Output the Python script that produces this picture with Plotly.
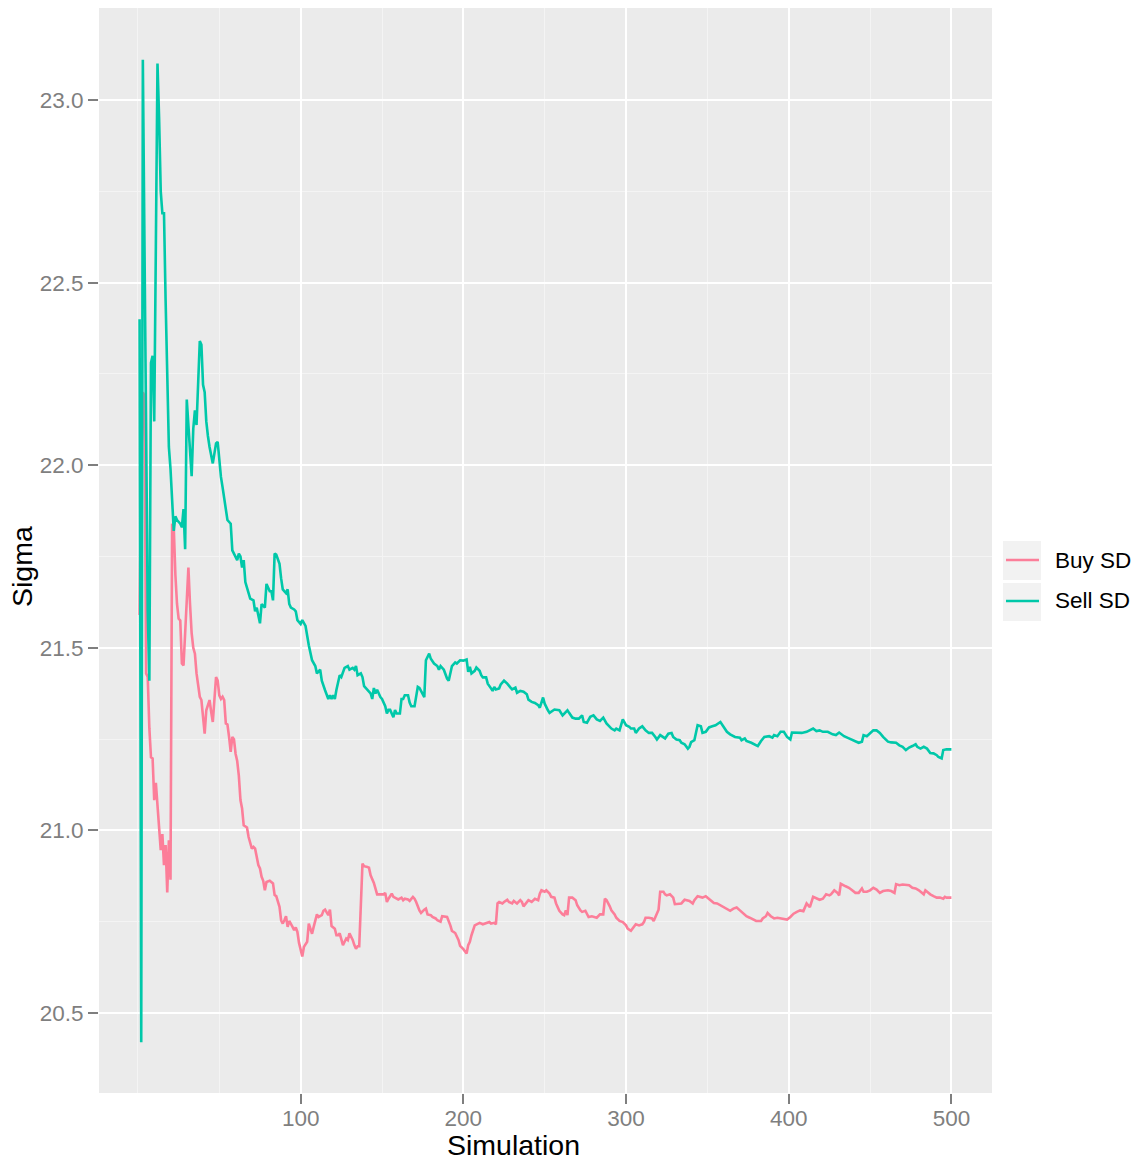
import plotly.graph_objects as go

# ---------------- data ----------------
sell_sim = [1, 2, 3, 4, 5, 6, 7, 8, 9, 10, 11, 12, 13, 14, 15, 16, 17, 18, 19, 20,
            21, 22, 23, 24, 26, 27, 28, 29, 30, 31, 32, 33, 34, 35, 36, 37, 38, 39, 40,
            41, 42, 43, 44, 46, 47, 48, 49, 50, 51, 52, 55, 57, 58, 61, 62, 63, 64, 65,
            66, 69, 71, 72, 73, 75, 76, 78, 79, 81, 82, 83, 84, 85, 87, 88, 89, 91, 92,
            93, 94, 96, 97, 98, 100, 101, 103, 105, 107, 109, 110, 112, 113, 115, 117,
            118, 119, 120, 121, 122, 124, 125, 127, 129, 130, 132, 133, 134, 135, 137,
            138, 139, 141, 143, 144, 145, 146, 147, 149, 150, 152, 153, 154, 155, 157,
            158, 159, 161, 162, 163, 164, 166, 167, 168, 170, 172, 173, 175, 176, 177,
            179, 180, 182, 184, 185, 186, 188, 190, 191, 193, 195, 196, 198, 200, 202,
            203, 204, 205, 207, 208, 210, 211, 212, 214, 215, 217, 218, 219, 220, 222,
            223, 225, 227, 229, 230, 232, 233, 235, 237, 239, 240, 242, 244, 246, 247,
            249, 250, 252, 253, 256, 259, 261, 262, 264, 265, 267, 269, 271, 273, 274,
            276, 277, 278, 280, 282, 284, 285, 286, 288, 290, 291, 293, 294, 296, 297,
            298, 300, 302, 303, 305, 306, 308, 310, 312, 314, 316, 318, 319, 321, 323,
            324, 326, 328, 329, 331, 333, 334, 336, 338, 339, 340, 342, 344, 346, 347,
            349, 351, 353, 355, 358, 360, 362, 364, 367, 370, 371, 373, 374, 377, 379,
            381, 383, 385, 388, 390, 391, 393, 395, 397, 399, 401, 402, 405, 408, 411,
            413, 415, 417, 419, 421, 424, 427, 429, 431, 434, 437, 440, 443, 445, 446,
            448, 450, 452, 454, 456, 458, 461, 463, 466, 468, 470, 472, 474, 476, 478,
            479, 481, 483, 485, 487, 489, 491, 492, 494, 495, 497, 500]
sell_sd = [22.40, 20.42, 23.11, 22.60, 22.00, 21.60, 21.41, 22.28, 22.30, 22.12, 22.60,
           23.10, 22.95, 22.75, 22.69, 22.69, 22.45, 22.25, 22.05, 21.99, 21.90, 21.82,
           21.86, 21.85, 21.84, 21.83, 21.88, 21.77, 22.18, 22.11, 22.02, 21.97, 22.10,
           22.15, 22.11, 22.25, 22.34, 22.33, 22.22, 22.20, 22.12, 22.08, 22.05, 22.005,
           22.03, 22.06, 22.064, 22.01, 21.968, 21.94, 21.85, 21.84, 21.767, 21.74,
           21.758, 21.75, 21.72, 21.74, 21.68, 21.635, 21.63, 21.60, 21.61, 21.567,
           21.62, 21.61, 21.675, 21.655, 21.655, 21.63, 21.758, 21.755, 21.73, 21.69,
           21.66, 21.65, 21.66, 21.62, 21.61, 21.605, 21.60, 21.576, 21.565, 21.576,
           21.56, 21.507, 21.466, 21.45, 21.43, 21.44, 21.41, 21.384, 21.36, 21.37,
           21.36, 21.37, 21.36, 21.385, 21.425, 21.42, 21.445, 21.45, 21.44, 21.445,
           21.44, 21.45, 21.425, 21.43, 21.42, 21.395, 21.385, 21.375, 21.36, 21.39,
           21.375, 21.385, 21.365, 21.36, 21.34, 21.32, 21.33, 21.33, 21.31, 21.33,
           21.32, 21.32, 21.36, 21.36, 21.37, 21.37, 21.35, 21.34, 21.34, 21.393, 21.39,
           21.375, 21.365, 21.466, 21.484, 21.47, 21.457, 21.45, 21.44, 21.45, 21.44,
           21.416, 21.41, 21.45, 21.46, 21.457, 21.466, 21.465, 21.468, 21.434, 21.448,
           21.43, 21.437, 21.446, 21.437, 21.425, 21.419, 21.419, 21.402, 21.389,
           21.382, 21.393, 21.386, 21.389, 21.40, 21.41, 21.402, 21.391, 21.386, 21.391,
           21.377, 21.382, 21.38, 21.373, 21.358, 21.352, 21.349, 21.343, 21.336,
           21.364, 21.347, 21.329, 21.322, 21.331, 21.329, 21.315, 21.32, 21.329,
           21.322, 21.309, 21.306, 21.306, 21.315, 21.297, 21.295, 21.302, 21.311,
           21.315, 21.304, 21.30, 21.306, 21.309, 21.293, 21.282, 21.279, 21.274,
           21.279, 21.274, 21.291, 21.304, 21.288, 21.284, 21.279, 21.279, 21.267,
           21.279, 21.285, 21.274, 21.267, 21.267, 21.256, 21.249, 21.261, 21.256,
           21.252, 21.265, 21.267, 21.256, 21.249, 21.247, 21.24, 21.236, 21.224,
           21.229, 21.242, 21.247, 21.288, 21.285, 21.267, 21.27, 21.282, 21.285,
           21.288, 21.297, 21.284, 21.27, 21.263, 21.256, 21.254, 21.247, 21.252,
           21.245, 21.24, 21.236, 21.231, 21.245, 21.256, 21.258, 21.254, 21.261,
           21.258, 21.27, 21.27, 21.256, 21.249, 21.268, 21.267, 21.267, 21.27, 21.274,
           21.279, 21.272, 21.274, 21.27, 21.27, 21.263, 21.261, 21.268, 21.258,
           21.252, 21.245, 21.24, 21.243, 21.261, 21.258, 21.265, 21.274, 21.274,
           21.267, 21.256, 21.243, 21.241, 21.24, 21.233, 21.229, 21.22, 21.227,
           21.231, 21.236, 21.229, 21.224, 21.229, 21.224, 21.212, 21.211, 21.206,
           21.201, 21.197, 21.22, 21.222, 21.222]

buy_sim = [1, 2, 3, 4, 5, 6, 7, 8, 9, 10, 11, 12, 13, 14, 15, 16, 17, 18, 19, 20, 21,
           22, 23, 24, 25, 26, 27, 28, 29, 30, 31, 32, 33, 34, 35, 36, 37, 38, 39, 40,
           41, 42, 44, 45, 46, 48, 49, 50, 51, 52, 53, 54, 55, 56, 57, 58, 59, 60, 61,
           62, 63, 64, 65, 67, 68, 70, 71, 72, 74, 75, 76, 77, 78, 79, 81, 83, 84, 85,
           87, 88, 89, 90, 91, 92, 93, 95, 96, 97, 98, 99, 100, 101, 102, 104, 105,
           107, 108, 110, 111, 113, 114, 115, 117, 118, 119, 121, 122, 123, 124, 126,
           128, 129, 130, 132, 133, 134, 135, 136, 138, 139, 141, 142, 143, 145, 147,
           148, 150, 151, 152, 153, 154, 156, 157, 159, 160, 162, 163, 164, 166, 167,
           169, 170, 171, 173, 174, 176, 177, 178, 180, 181, 183, 184, 186, 187, 190,
           192, 193, 195, 197, 198, 200, 202, 203, 204, 205, 207, 208, 210, 212, 214,
           216, 217, 219, 220, 221, 222, 224, 225, 227, 228, 230, 231, 233, 235, 236,
           237, 239, 240, 242, 243, 244, 246, 247, 248, 250, 251, 253, 254, 256, 257,
           259, 261, 262, 263, 264, 265, 267, 269, 270, 272, 273, 275, 277, 279, 281,
           282, 284, 286, 287, 288, 290, 291, 293, 294, 296, 298, 300, 301, 303, 305,
           306, 308, 310, 311, 312, 314, 316, 317, 319, 320, 321, 323, 324, 325, 327,
           329, 330, 332, 334, 336, 337, 339, 341, 342, 344, 345, 347, 349, 350, 352,
           354, 356, 358, 360, 362, 364, 366, 368, 370, 372, 374, 376, 378, 380, 383,
           384, 386, 387, 389, 391, 393, 395, 397, 399, 401, 403, 405, 407, 409, 411,
           412, 413, 415, 417, 419, 421, 423, 425, 426, 428, 430, 431, 432, 435, 437,
           439, 441, 443, 445, 446, 448, 450, 452, 454, 456, 458, 461, 463, 465, 466,
           468, 470, 472, 474, 476, 478, 480, 481, 483, 484, 485, 487, 489, 491, 493,
           495, 496, 497, 500]
buy_sd = [21.59, 22.00, 22.20, 22.19, 21.43, 21.42, 21.28, 21.20, 21.197, 21.083, 21.13,
          21.07, 20.99, 20.946, 20.99, 20.905, 20.96, 20.83, 20.973, 20.865, 21.84,
          21.83, 21.70, 21.62, 21.58, 21.575, 21.457, 21.452, 21.54, 21.64, 21.72,
          21.62, 21.54, 21.50, 21.484, 21.43, 21.40, 21.366, 21.357, 21.30, 21.265,
          21.329, 21.357, 21.325, 21.297, 21.42, 21.41, 21.37, 21.36, 21.366, 21.357,
          21.293, 21.29, 21.256, 21.215, 21.256, 21.25, 21.21, 21.19, 21.15, 21.083,
          21.06, 21.014, 21.008, 20.982, 20.95, 20.955, 20.95, 20.905, 20.896, 20.873,
          20.862, 20.836, 20.859, 20.862, 20.855, 20.823, 20.82, 20.791, 20.754,
          20.745, 20.754, 20.765, 20.736, 20.752, 20.736, 20.727, 20.734, 20.722,
          20.692, 20.676, 20.655, 20.681, 20.695, 20.745, 20.717, 20.736, 20.77,
          20.763, 20.768, 20.78, 20.783, 20.768, 20.783, 20.738, 20.731, 20.713,
          20.713, 20.718, 20.686, 20.704, 20.70, 20.718, 20.70, 20.686, 20.676,
          20.683, 20.683, 20.909, 20.902, 20.90, 20.898, 20.877, 20.856, 20.825,
          20.825, 20.827, 20.825, 20.829, 20.804, 20.813, 20.827, 20.818, 20.813,
          20.811, 20.816, 20.809, 20.813, 20.811, 20.807, 20.818, 20.813, 20.804,
          20.781, 20.774, 20.783, 20.786, 20.77, 20.768, 20.763, 20.759, 20.754,
          20.75, 20.765, 20.763, 20.74, 20.725, 20.719, 20.70, 20.684, 20.675, 20.663,
          20.686, 20.695, 20.713, 20.74, 20.742, 20.747, 20.743, 20.745, 20.749,
          20.745, 20.747, 20.743, 20.80, 20.804, 20.80, 20.804, 20.81, 20.804, 20.80,
          20.807, 20.80, 20.809, 20.804, 20.792, 20.804, 20.809, 20.804, 20.809,
          20.813, 20.809, 20.827, 20.836, 20.832, 20.836, 20.827, 20.818, 20.816,
          20.80, 20.78, 20.77, 20.768, 20.781, 20.768, 20.816, 20.816, 20.809, 20.795,
          20.781, 20.777, 20.78, 20.763, 20.765, 20.763, 20.761, 20.77, 20.77, 20.813,
          20.809, 20.792, 20.781, 20.77, 20.761, 20.752, 20.749, 20.74, 20.731,
          20.725, 20.738, 20.743, 20.74, 20.743, 20.749, 20.761, 20.761, 20.759,
          20.752, 20.772, 20.783, 20.832, 20.832, 20.825, 20.822, 20.825, 20.816,
          20.798, 20.80, 20.80, 20.81, 20.809, 20.807, 20.80, 20.809, 20.82, 20.818,
          20.816, 20.82, 20.816, 20.807, 20.801, 20.80, 20.795, 20.789, 20.783, 20.78,
          20.786, 20.789, 20.781, 20.772, 20.765, 20.761, 20.756, 20.752, 20.752,
          20.759, 20.765, 20.774, 20.765, 20.759, 20.761, 20.759, 20.759, 20.756,
          20.763, 20.772, 20.777, 20.781, 20.779, 20.80, 20.795, 20.79, 20.818,
          20.813, 20.81, 20.813, 20.825, 20.822, 20.825, 20.836, 20.829, 20.822,
          20.854, 20.847, 20.843, 20.836, 20.829, 20.829, 20.841, 20.832, 20.832,
          20.836, 20.843, 20.838, 20.829, 20.834, 20.836, 20.834, 20.829, 20.853,
          20.85, 20.852, 20.85, 20.85, 20.843, 20.841, 20.836, 20.832, 20.825, 20.836,
          20.832, 20.825, 20.82, 20.816, 20.816, 20.813, 20.818, 20.816, 20.816]

x_ticks = [100, 200, 300, 400, 500]
x_minor = [0, 50, 150, 250, 350, 450]
y_ticks = [20.5, 21.0, 21.5, 22.0, 22.5, 23.0]
y_minor = [20.75, 21.25, 21.75, 22.25, 22.75]
series_names = ["Buy SD", "Sell SD"]
series_colors = ["#FC7E99", "#00C8A9"]

# ---------------- figure ----------------
# The page body has an 8px margin, so the figure is offset by (8, 8).
OFF = 8
W, H = 1141 - OFF, 1160 - OFF
PANEL_L, PANEL_R, PANEL_T, PANEL_B = 99, 992, 8, 1093      # page pixels
L, T = PANEL_L - OFF, PANEL_T - OFF
R = W - (PANEL_R - OFF)
B = H - (PANEL_B - OFF)
pw, ph = PANEL_R - PANEL_L, PANEL_B - PANEL_T


def px_x(p):
    return (p - PANEL_L) / pw


def px_y(p):
    return (PANEL_B - p) / ph


FONT = "Liberation Sans, Arial, Helvetica, sans-serif"
GREY = "#7F7F7F"
LW = 2.6

fig = go.Figure()
for xs, ys, nm, col in [(buy_sim, buy_sd, series_names[0], series_colors[0]),
                        (sell_sim, sell_sd, series_names[1], series_colors[1])]:
    fig.add_trace(go.Scatter(x=xs, y=ys, mode="lines", name=nm, showlegend=False,
                             line=dict(color=col, width=LW)))

axis_common = dict(
    showline=False, zeroline=False, ticks="outside", ticklen=10, tickwidth=2,
    tickcolor=GREY, tickfont=dict(family=FONT, size=22.5, color=GREY),
    showgrid=True, gridcolor="#FFFFFF", gridwidth=2.4,
)

# manual legend (key boxes, key lines, labels)
legend_rows = [(541, 580, 560), (583, 621, 601)]
shapes, annotations = [], []
for (top, bot, mid), nm, col in zip(legend_rows, series_names, series_colors):
    shapes.append(dict(type="rect", xref="paper", yref="paper", layer="above",
                       x0=px_x(1003), x1=px_x(1041), y0=px_y(bot), y1=px_y(top),
                       fillcolor="#F2F2F2", line=dict(width=0)))
    shapes.append(dict(type="line", xref="paper", yref="paper", layer="above",
                       x0=px_x(1006), x1=px_x(1039), y0=px_y(mid), y1=px_y(mid),
                       line=dict(color=col, width=LW)))
    annotations.append(dict(text=nm, xref="paper", yref="paper",
                            x=px_x(1053), y=px_y(mid), xanchor="left", yanchor="middle",
                            showarrow=False,
                            font=dict(family=FONT, size=22.5, color="#000000")))

annotations += [
    dict(text="Simulation", xref="paper", yref="paper",
         x=px_x(513.5), y=px_y(1145), xanchor="center", yanchor="middle",
         showarrow=False, font=dict(family=FONT, size=28.5, color="#000000")),
    dict(text="Sigma", xref="paper", yref="paper", textangle=-90,
         x=px_x(22), y=px_y(567), xanchor="center", yanchor="middle",
         showarrow=False, font=dict(family=FONT, size=28.5, color="#000000")),
]

fig.update_layout(
    width=W, height=H,
    margin=dict(l=L, r=R, t=T, b=B, pad=0),
    paper_bgcolor="#FFFFFF", plot_bgcolor="#EBEBEB",
    font=dict(family=FONT),
    xaxis=dict(range=[-23.95, 524.95], tickmode="array", tickvals=x_ticks,
               ticktext=[str(v) for v in x_ticks], ticklabelstandoff=-5,
               minor=dict(tickmode="array", tickvals=x_minor, showgrid=True,
                          gridcolor="#F4F4F4", gridwidth=1.2, ticks=""),
               **axis_common),
    yaxis=dict(range=[20.281, 23.252], tickmode="array", tickvals=y_ticks,
               ticktext=[f"{v:.1f}" for v in y_ticks],
               minor=dict(tickmode="array", tickvals=y_minor, showgrid=True,
                          gridcolor="#F4F4F4", gridwidth=1.2, ticks=""),
               **axis_common),
    showlegend=False,
    annotations=annotations,
    shapes=shapes,
)

fig.write_html("out.html")
